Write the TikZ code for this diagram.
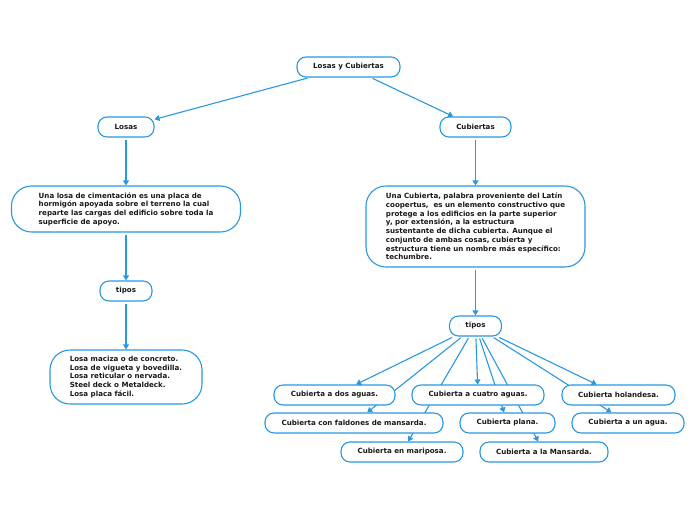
\documentclass[tikz,border=0pt]{standalone}
\usepackage{fontspec}
\setmainfont{DejaVu Sans}
\usetikzlibrary{arrows.meta,backgrounds}
\definecolor{lnk}{RGB}{40,152,224}
\definecolor{txt}{RGB}{25,25,25}
\tikzset{
  x=1pt,y=-1pt,
  box/.style={draw=lnk,line width=1.1pt,fill=white,rounded corners=9pt,inner sep=0pt,
    text=txt,font=\fontsize{7.1}{8.7}\selectfont\bfseries,minimum height=20pt},
  bigbox/.style={box,rounded corners=20pt,align=left},
  conn/.style={draw=lnk,line width=1.1pt,shorten <=2pt,-{Triangle[length=5pt,width=6pt]}}
}
\begin{document}
\begin{tikzpicture}
\useasboundingbox (0,0) rectangle (696,520);
\node[box,minimum width=103pt] (root) at (348.5,67) {Losas y Cubiertas};
\node[box,minimum width=56pt] (losas) at (126,127) {Losas};
\node[box,minimum width=71pt] (cub) at (475.5,127) {Cubiertas};
\node[bigbox,minimum width=229pt,minimum height=46pt] (ldesc) at (126,209) {Una losa de cimentación es una placa de\\hormigón apoyada sobre el terreno la cual\\reparte las cargas del edificio sobre toda la\\superficie de apoyo.};
\node[bigbox,minimum width=219pt,minimum height=81pt] (cdesc) at (475.5,226.5) {Una Cubierta, palabra proveniente del Latín\\coopertus,\ \ es un elemento constructivo que\\protege a los edificios en la parte superior\\y, por extensión, a la estructura\\sustentante de dicha cubierta. Aunque el\\conjunto de ambas cosas, cubierta y\\estructura tiene un nombre más específico:\\techumbre.};
\node[box,minimum width=52pt] (tl) at (126,291) {tipos};
\node[bigbox,minimum width=152pt,minimum height=54pt] (llist) at (126,377) {Losa maciza o de concreto.\\Losa de vigueta y bovedilla.\\Losa reticular o nervada.\\Steel deck o Metaldeck.\\Losa placa fácil.};
\node[box,minimum width=52pt] (tr) at (475.5,326) {tipos};
\node[box,minimum width=121pt] (d2) at (334.5,395) {Cubierta a dos aguas.};
\node[box,minimum width=132pt] (c4) at (478,395) {Cubierta a cuatro aguas.};
\node[box,minimum width=113pt] (hol) at (618.5,395) {Cubierta holandesa.};
\node[box,minimum width=178pt] (fm) at (354,423) {Cubierta con faldones de mansarda.};
\node[box,minimum width=95pt] (pla) at (507.5,423) {Cubierta plana.};
\node[box,minimum width=112pt] (una) at (628,423) {Cubierta a un agua.};
\node[box,minimum width=122pt] (mar) at (402,452) {Cubierta en mariposa.};
\node[box,minimum width=128pt] (man) at (544,452) {Cubierta a la Mansarda.};
\begin{scope}[on background layer]
\draw[conn] (root) -- (losas);
\draw[conn] (root) -- (cub);
\draw[conn] (losas) -- (ldesc);
\draw[conn] (ldesc) -- (tl);
\draw[conn] (tl) -- (llist);
\draw[conn] (cub) -- (cdesc);
\draw[conn] (cdesc) -- (tr);
\draw[conn] (tr) -- (d2);
\draw[conn] (tr) -- (fm);
\draw[conn] (tr) -- (mar);
\draw[conn] (tr) -- (c4);
\draw[conn] (tr) -- (pla);
\draw[conn] (tr) -- (man);
\draw[conn] (tr) -- (hol);
\draw[conn] (tr) -- (una);
\end{scope}
\end{tikzpicture}
\end{document}
